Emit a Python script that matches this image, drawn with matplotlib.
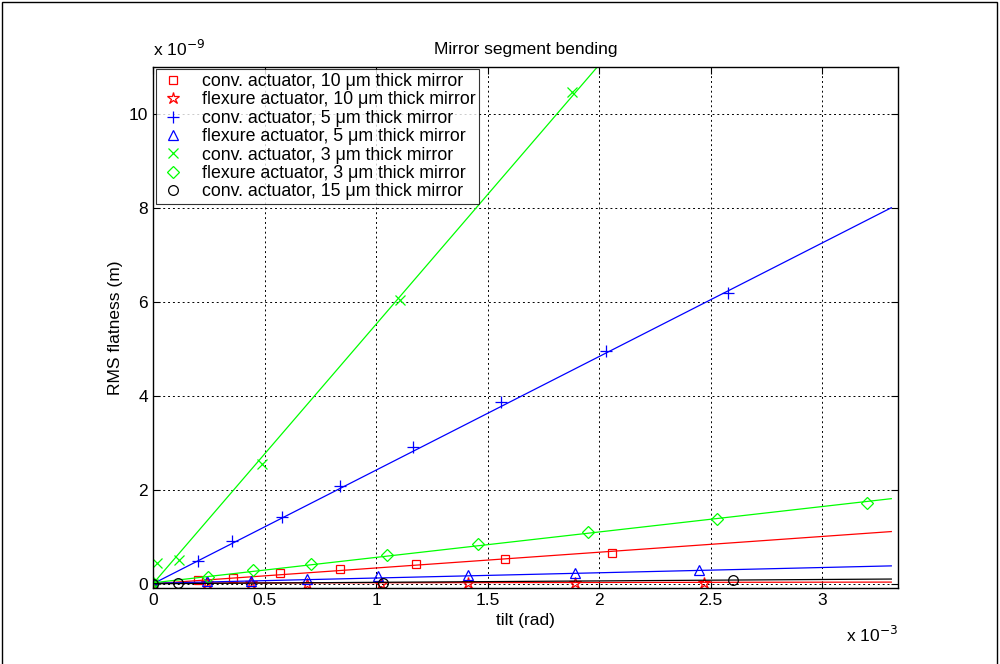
import numpy as np
import matplotlib
matplotlib.use("Agg")
import matplotlib.pyplot as plt
from matplotlib.patches import Rectangle

plt.rcParams['font.family'] = ['Liberation Sans', 'DejaVu Sans']

#### datos medidos (tilt en 1e-3 rad, flatness en 1e-9 m)
conv3_x = [0, 0.02, 0.116, 0.49, 1.106, 1.88]
conv3_y = [0, 0.45, 0.51, 2.55, 6.03, 10.47]

conv5_x = [0, 0.2, 0.355, 0.58, 0.84, 1.165, 1.56, 2.03, 2.58]
conv5_y = [0, 0.49, 0.90, 1.43, 2.08, 2.90, 3.86, 4.95, 6.18]

conv10_x = [0, 0.2, 0.36, 0.57, 0.84, 1.18, 1.58, 2.06]
conv10_y = [0, 0.07, 0.13, 0.22, 0.31, 0.42, 0.53, 0.66]

flex3_x = [0, 0.245, 0.45, 0.71, 1.05, 1.455, 1.95, 2.53, 3.2]
flex3_y = [0.02, 0.15, 0.30, 0.42, 0.62, 0.85, 1.10, 1.38, 1.72]

flex5_x = [0, 0.24, 0.44, 0.69, 1.01, 1.41, 1.89, 2.45]
flex5_y = [0, 0.05, 0.06, 0.10, 0.16, 0.19, 0.23, 0.30]

flex10_x = [0, 0.24, 0.44, 0.69, 1.02, 1.41, 1.89, 2.47]
flex10_y = [0, 0.01, 0.01, 0.0, 0.0, 0.01, 0.01, 0.02]

conv15_x = [0, 0.11, 1.03, 2.6]
conv15_y = [0, 0.02, 0.02, 0.09]

#### rectas de ajuste (extremos)
fit_x = [0, 3.31]
conv3_fit = [0, 18.27]
conv5_fit = [0, 8.0]
conv10_fit = [0, 1.11]
flex3_fit = [0.02, 1.81]
flex5_fit = [0.01, 0.38]
flex10_fit = [0.015, 0.035]
conv15_fit = [0, 0.1]

labels = ["conv. actuator, 10 \u03bcm thick mirror",
          "flexure actuator, 10 \u03bcm thick mirror",
          "conv. actuator, 5 \u03bcm thick mirror",
          "flexure actuator, 5 \u03bcm thick mirror",
          "conv. actuator, 3 \u03bcm thick mirror",
          "flexure actuator, 3 \u03bcm thick mirror",
          "conv. actuator, 15 \u03bcm thick mirror"]

red = (1, 0, 0)
green = (0, 1, 0)
blue = (0, 0, 1)
black = (0, 0, 0)

series = [
    (conv10_x, conv10_y, conv10_fit, red, 's', 6),
    (flex10_x, flex10_y, flex10_fit, red, '*', 9),
    (conv5_x, conv5_y, conv5_fit, blue, '+', 9),
    (flex5_x, flex5_y, flex5_fit, blue, '^', 7),
    (conv3_x, conv3_y, conv3_fit, green, 'x', 7),
    (flex3_x, flex3_y, flex3_fit, green, 'D', 6),
    (conv15_x, conv15_y, conv15_fit, black, 'o', 7),
]

fs = 12.5

fig = plt.figure(figsize=(10, 6.64), dpi=100)
ax = fig.add_axes([0.153, 0.1145, 0.745, 0.785])

for (x, y, fit, c, m, ms), lab in zip(series, labels):
    ax.plot(fit_x, fit, '-', color=c, lw=0.9)
    ax.plot(x, y, linestyle='none', marker=m, ms=ms, mfc='none', mec=c,
            mew=0.9, label=lab)

ax.set_xlim(0, 3.34)
ax.set_ylim(-0.09, 11.0)
ax.set_xticks([0, 0.5, 1, 1.5, 2, 2.5, 3])
ax.set_xticklabels(['0', '0.5', '1', '1.5', '2', '2.5', '3'])
ax.set_yticks([0, 2, 4, 6, 8, 10])
ax.grid(True, color='black', linestyle=(0, (2, 3)), linewidth=0.7)
ax.tick_params(direction='in', top=True, right=True, labelsize=fs, length=5)
for s in ax.spines.values():
    s.set_linewidth(1.0)

ax.set_title("Mirror segment bending", fontsize=fs, pad=9)
ax.set_xlabel("tilt (rad)", fontsize=fs, labelpad=4)
ax.set_ylabel("RMS flatness (m)", fontsize=fs, labelpad=4)

ax.text(0.0, 1.015, r"x 10$^{-9}$", transform=ax.transAxes, fontsize=fs,
        ha='left', va='bottom')
ax.text(1.0, -0.07, r"x 10$^{-3}$", transform=ax.transAxes, fontsize=fs,
        ha='right', va='top')

leg = ax.legend(loc='upper left', fontsize=12.8, frameon=True, fancybox=False,
                edgecolor='black', borderaxespad=0.15, handletextpad=0.8,
                labelspacing=0.08, borderpad=0.2, handlelength=1.6)
leg.get_frame().set_linewidth(0.8)

fig.patches.append(Rectangle((0.002, -0.01), 0.995, 1.007, transform=fig.transFigure,
                             fill=False, edgecolor='black', linewidth=1.0))

plt.savefig("out.png", dpi=100)
